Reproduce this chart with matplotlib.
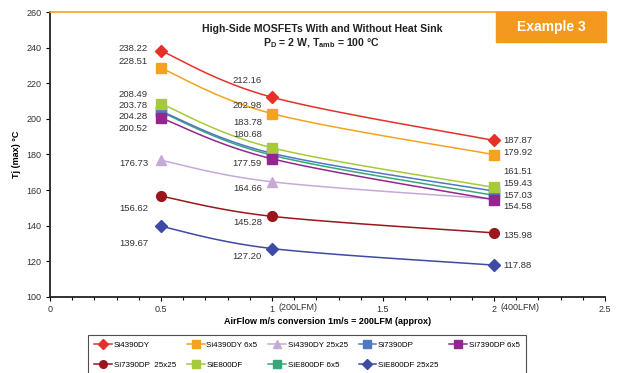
import numpy as np
import matplotlib
matplotlib.use('Agg')
import matplotlib.pyplot as plt
from matplotlib.patches import Rectangle
import matplotlib.transforms as mtransforms

plt.rcParams['font.family'] = ['Liberation Sans', 'DejaVu Sans']
plt.rcParams['mathtext.fontset'] = 'custom'
plt.rcParams['mathtext.rm'] = 'Liberation Sans'
plt.rcParams['mathtext.bf'] = 'Liberation Sans:bold'

# airflow in m/s
airflow = [0.5, 1, 2]

si4390dy = [238.22, 212.16, 187.87]
si4390dy_6x5 = [228.51, 202.98, 179.92]
si4390dy_25x25 = [176.73, 164.66, 155.0]
si7390dp = [204.28, 180.68, 159.43]
si7390dp_6x5 = [200.52, 177.59, 154.58]
si7390dp_25x25 = [156.62, 145.28, 135.98]
sie800df = [208.49, 183.78, 161.51]
sie800df_6x5 = [203.78, 179.6, 157.03]
sie800df_25x25 = [139.67, 127.20, 117.88]

names = ['Si4390DY', 'Si4390DY 6x5', 'Si4390DY 25x25', 'Si7390DP', 'Si7390DP 6x5',
         'Si7390DP  25x25', 'SiE800DF', 'SiE800DF 6x5', 'SiE800DF 25x25']
values = [si4390dy, si4390dy_6x5, si4390dy_25x25, si7390dp, si7390dp_6x5,
          si7390dp_25x25, sie800df, sie800df_6x5, sie800df_25x25]

xticks = [0, 0.5, 1, 1.5, 2, 2.5]
xtick_labels = ['0', '0.5', '1', '1.5', '2', '2.5']
xtick_notes = {1: '(200LFM)', 2: '(400LFM)'}

colors = ['#E8302A', '#F5A31F', '#C7A9D8', '#4E78C2', '#93278F',
          '#98161C', '#A6CA3A', '#38A57A', '#3E4AA4']
markers = ['D', 's', '^', 's', 's', 'o', 's', 's', 'D']
zorders = [5, 5, 4, 5, 6, 5, 5, 3, 5]

# data label offsets in pixels (None = label hidden)
label_offsets = [
    [(-13, 2), (-10, 16.5), (9, 0)],
    [(-13, 7), (-10, 7.6), (9, 2)],
    [(-13, -3.4), (-10, -6.2), None],
    [(-13, -5.5), (-10, 18.3), (9, 7.8)],
    [(-13, -10.4), (-10, -4.9), (9, -7)],
    [(-13, -12), (-10, -6.4), (9, -3)],
    [(-13, 9), (-10, 25.5), (9, 15.7)],
    [(-13, 6.4), None, (9, 0)],
    [(-13, -17), (-10, -8.2), (9, 0)],
]


def smooth(xs, ys, n=40):
    # excel-like smoothed line (bezier through the points)
    p = np.column_stack([xs, ys]).astype(float)
    pts = np.vstack([p[0], p, p[-1]])
    out = []
    t = np.linspace(0, 1, n)[:, None]
    for i in range(1, len(pts) - 2):
        p0, p1, p2, p3 = pts[i - 1], pts[i], pts[i + 1], pts[i + 2]
        c1 = p1 + (p2 - p0) / 6
        c2 = p2 - (p3 - p1) / 6
        seg = (1 - t) ** 3 * p1 + 3 * (1 - t) ** 2 * t * c1 + 3 * (1 - t) * t ** 2 * c2 + t ** 3 * p2
        out.append(seg)
    return np.vstack(out)


fig = plt.figure(figsize=(6.2, 3.73), dpi=100)
ax = fig.add_axes([0.0806, 0.2038, 0.8952, 0.764])

handles = []
for name, vals, c, m, z, offs in zip(names, values, colors, markers, zorders, label_offsets):
    curve = smooth(airflow, vals)
    ax.plot(curve[:, 0], curve[:, 1], color=c, lw=1.1, zorder=z)
    ms = 7 if m != 'D' else 6.3
    ax.plot(airflow, vals, ls='none', marker=m, color=c, ms=ms, mec=c, zorder=z)
    h, = ax.plot([], [], color=c, lw=1.1, marker=m, ms=5.5, mec=c)
    handles.append(h)
    for xv, yv, off in zip(airflow, vals, offs):
        if off is None:
            continue
        ax.annotate('%.2f' % yv, (xv, yv), xytext=off, textcoords='offset pixels',
                    ha='right' if off[0] < 0 else 'left', va='center',
                    fontsize=6.8, color='#333333', zorder=10)

ax.set_xlim(0, 2.5)
ax.set_ylim(100, 260)
ax.set_yticks(np.arange(100, 261, 20))
ax.set_xticks(xticks)
ax.set_xticklabels(xtick_labels)
ax.set_xticks(np.arange(0, 2.51, 0.1), minor=True)
ax.tick_params(axis='both', labelsize=6.5, labelcolor='#333333', length=3, width=0.8,
               direction='out', pad=3)
ax.tick_params(axis='x', which='minor', length=2, width=0.8)

trans = mtransforms.blended_transform_factory(ax.transData, ax.transAxes)
for xv, note in xtick_notes.items():
    ax.annotate(note, (xv, 0), xycoords=trans, xytext=(7, -10.5), textcoords='offset pixels',
                ha='left', va='center', fontsize=6.5, color='#333333')

for s in ['left', 'bottom']:
    ax.spines[s].set_linewidth(1.3)
    ax.spines[s].set_color('#222222')
ax.spines['right'].set_visible(False)
ax.spines['top'].set_color('#F5A31F')
ax.spines['top'].set_linewidth(1.2)

ax.set_ylabel('Tj (max) °C', fontsize=6.5, fontweight='bold', labelpad=4)
ax.set_xlabel('AirFlow m/s conversion 1m/s = 200LFM (approx)', fontsize=6.5,
              fontweight='bold', labelpad=2)

ax.text(0.49, 0.94, 'High-Side MOSFETs With and Without Heat Sink', transform=ax.transAxes,
        ha='center', va='center', fontsize=7.6, fontweight='bold', color='#222222')
ax.text(0.49, 0.89, r'P$_\mathbf{D}$ = 2 W, T$_\mathbf{amb}$ = 100 °C', transform=ax.transAxes,
        ha='center', va='center', fontsize=7.6, fontweight='bold', color='#222222')

# Example badge
fig.patches.append(Rectangle((496 / 620, 1 - 42 / 373), 110 / 620, 30 / 373,
                             transform=fig.transFigure, color='#F39A1E', zorder=20))
fig.text(551 / 620, 1 - 27 / 373, 'Example 3', ha='center', va='center', color='white',
         fontsize=10, fontweight='bold', zorder=21)

order = [0, 5, 1, 6, 2, 7, 3, 8, 4]
leg = fig.legend([handles[i] for i in order], [names[i] for i in order],
                 loc='upper left', bbox_to_anchor=(88 / 620, 0.0, 438 / 620, 1 - 335 / 373),
                 bbox_transform=fig.transFigure, mode='expand', ncol=5, fontsize=5.8,
                 frameon=True, fancybox=False, edgecolor='#222222', handlelength=2.2,
                 handletextpad=0.2, labelspacing=1.5, borderaxespad=0, borderpad=0.8,
                 columnspacing=0.5)
leg.get_frame().set_linewidth(0.8)

fig.savefig('out.png', dpi=100)
